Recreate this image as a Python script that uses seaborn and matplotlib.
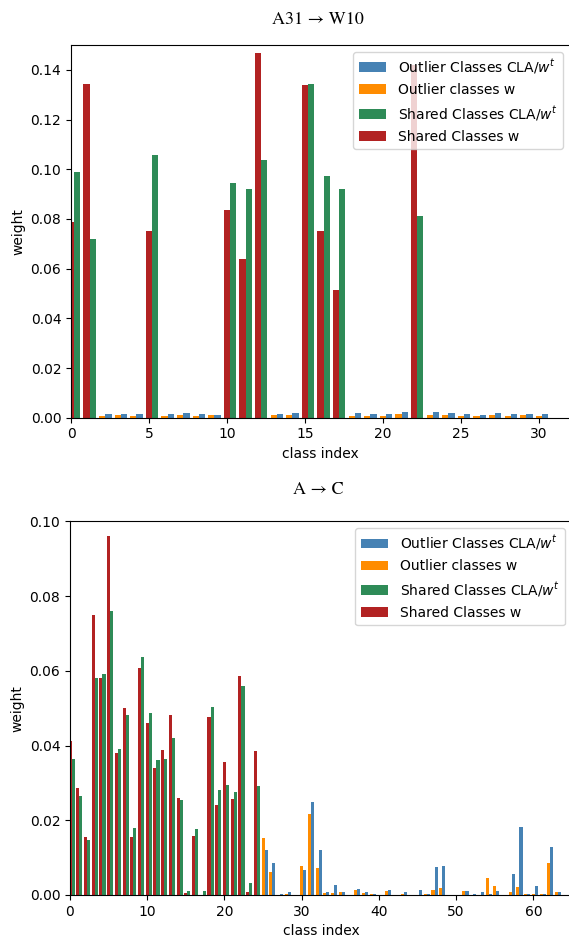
import numpy as np
import pandas as pd
import matplotlib
matplotlib.use("Agg")
import matplotlib.pyplot as plt
import seaborn as sns

# ---------------- data: A31 -> W10 (31 classes) ----------------
top_classes = list(range(31))
top_shared_w = [0.0786, 0.1344, 0, 0, 0, 0.0753, 0, 0, 0, 0, 0.0835, 0.0639, 0.1469, 0, 0,
                0.1339, 0.0753, 0.0514, 0, 0, 0, 0, 0.1420, 0, 0, 0, 0, 0, 0, 0, 0]
top_shared_cla = [0.0988, 0.0720, 0, 0, 0, 0.1058, 0, 0, 0, 0, 0.0944, 0.0920, 0.1038, 0, 0,
                  0.1344, 0.0973, 0.0920, 0, 0, 0, 0, 0.0810, 0, 0, 0, 0, 0, 0, 0, 0]
top_outlier_w = [0, 0, 0.0007, 0.0009, 0.0005, 0, 0.0005, 0.0010, 0.0008, 0.0009, 0, 0, 0, 0.0009, 0.0010,
                 0, 0, 0, 0.0007, 0.0007, 0.0008, 0.0014, 0, 0.0009, 0.0010, 0.0007, 0.0005, 0.0010,
                 0.0007, 0.0010, 0.0007]
top_outlier_cla = [0, 0, 0.0014, 0.0014, 0.0014, 0, 0.0014, 0.0017, 0.0014, 0.0012, 0, 0, 0, 0.0014, 0.0017,
                   0, 0, 0, 0.0017, 0.0014, 0.0014, 0.0021, 0, 0.0021, 0.0017, 0.0014, 0.0010, 0.0017,
                   0.0014, 0.0014, 0.0014]

# ---------------- data: A -> C (65 classes; 0-24 shared, 25-64 outlier) ----------------
bot_classes = list(range(65))
bot_shared_w_vals = [0.0413, 0.0285, 0.0156, 0.0748, 0.0581, 0.0960, 0.0380, 0.0500, 0.0156, 0.0607,
                     0.0459, 0.0340, 0.0389, 0.0481, 0.0259, 0.0005, 0.0158, 0.0, 0.0475, 0.0240,
                     0.0355, 0.0256, 0.0586, 0.0007, 0.0386]
bot_shared_cla_vals = [0.0364, 0.0265, 0.0147, 0.0581, 0.0591, 0.0760, 0.0392, 0.0481, 0.0180, 0.0638,
                       0.0486, 0.0361, 0.0364, 0.0421, 0.0253, 0.0010, 0.0177, 0.0012, 0.0502, 0.0280,
                       0.0294, 0.0275, 0.0559, 0.0031, 0.0292]
bot_outlier_w_vals = [0.0153, 0.0062, 0.0, 0.0004, 0.0, 0.0078, 0.0216, 0.0072, 0.0005, 0.0005,
                      0.0008, 0.0, 0.0013, 0.0005, 0.0004, 0.0, 0.0011, 0.0, 0.0004, 0.0,
                      0.0, 0.0004, 0.0013, 0.0019, 0.0, 0.0, 0.0010, 0.0, 0.0, 0.0045,
                      0.0023, 0.0, 0.0007, 0.0021, 0.0003, 0.0004, 0.0004, 0.0085, 0.0007, 0.0]
bot_outlier_cla_vals = [0.0120, 0.0086, 0.0004, 0.0008, 0.0, 0.0067, 0.0248, 0.0120, 0.0008, 0.0027,
                        0.0008, 0.0, 0.0016, 0.0008, 0.0004, 0.0, 0.0013, 0.0, 0.0008, 0.0,
                        0.0013, 0.0003, 0.0075, 0.0077, 0.0, 0.0, 0.0010, 0.0004, 0.0007, 0.0004,
                        0.0010, 0.0, 0.0056, 0.0183, 0.0004, 0.0023, 0.0004, 0.0128, 0.0007, 0.0]
n_shared_bot = len(bot_shared_w_vals)
n_out_bot = len(bot_outlier_w_vals)
bot_shared_w = bot_shared_w_vals + [0.0] * n_out_bot
bot_shared_cla = bot_shared_cla_vals + [0.0] * n_out_bot
bot_outlier_w = [0.0] * n_shared_bot + bot_outlier_w_vals
bot_outlier_cla = [0.0] * n_shared_bot + bot_outlier_cla_vals

labels = ["Outlier Classes CLA/$w^t$", "Outlier classes w",
          "Shared Classes CLA/$w^t$", "Shared Classes w"]
colors = ["steelblue", "darkorange", "seagreen", "firebrick"]
titles = ["A31 → W10", "A → C"]

W, H = 569, 940
fig = plt.figure(figsize=(W / 100, H / 100), dpi=100)


def px_axes(left, top, right, bottom):
    return fig.add_axes([left / W, 1 - bottom / H, (right - left) / W, (bottom - top) / H])


def draw(ax, classes, outlier_cla, outlier_w, shared_cla, shared_w, xmax, ymax):
    x = np.array(classes, dtype=float)
    shift = 0.4
    series = [(x + shift, outlier_cla), (x, outlier_w), (x + shift, shared_cla), (x, shared_w)]
    for (xs, ys), lab, col in zip(series, labels, colors):
        df = pd.DataFrame({"x": xs, "y": ys})
        sns.barplot(data=df, x="x", y="y", native_scale=True, width=0.4, color=col,
                    saturation=1, errorbar=None, label=lab, ax=ax, linewidth=0)
    ax.set_xlim(0, xmax)
    ax.set_ylim(0, ymax)
    ax.set_xlabel("class index")
    ax.set_ylabel("weight")
    ax.legend(loc="upper right")


ax1 = px_axes(71, 45, 570, 417.7)
draw(ax1, top_classes, top_outlier_cla, top_outlier_w, top_shared_cla, top_shared_w, 32, 0.15)
ax1.set_xticks([0, 5, 10, 15, 20, 25, 30])

ax2 = px_axes(70, 521.3, 572, 895)
draw(ax2, bot_classes, bot_outlier_cla, bot_outlier_w, bot_shared_cla, bot_shared_w, 65, 0.10)
ax2.set_xticks([0, 10, 20, 30, 40, 50, 60])

fig.text(318 / W, 1 - 20 / H, titles[0], ha="center", va="center",
         family=["STIXGeneral", "Liberation Serif"], fontsize=13)
fig.text(318 / W, 1 - 490 / H, titles[1], ha="center", va="center",
         family=["STIXGeneral", "Liberation Serif"], fontsize=13)

fig.savefig("out.png", dpi=100)
